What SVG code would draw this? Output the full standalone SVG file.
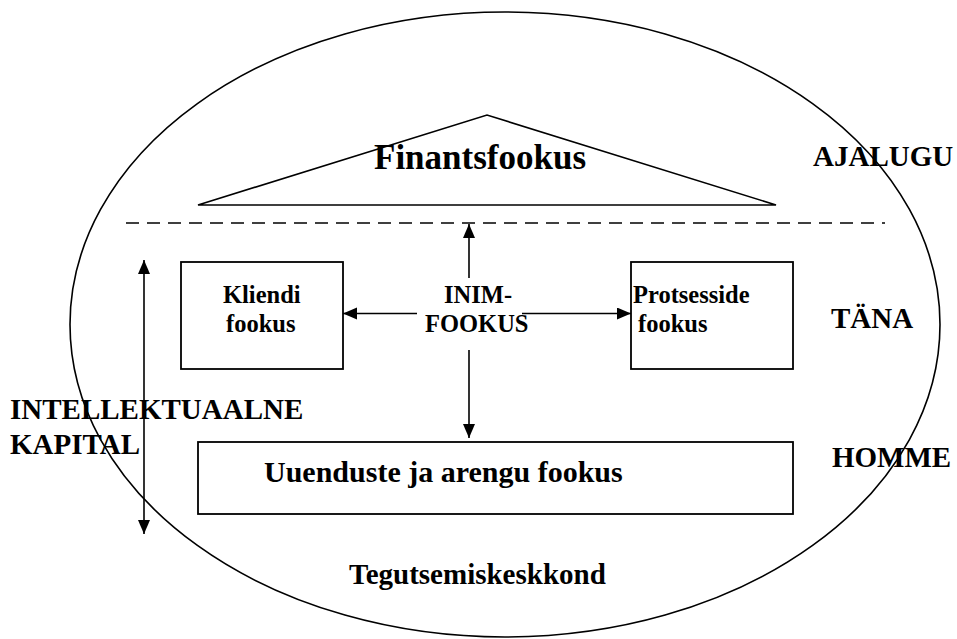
<svg xmlns="http://www.w3.org/2000/svg" width="957" height="639" viewBox="0 0 957 639">
  <style>
    .shape { fill: none; stroke: #000; stroke-width: 1.6; }
    .box { fill: #fff; stroke: #000; stroke-width: 1.8; }
    .conn { fill: none; stroke: #000; stroke-width: 1.6; }
    .t { font-family: 'Liberation Serif', 'DejaVu Serif', serif; font-weight: 700; fill: #000; }
    .lbl { font-size: 29px; }
    .small { font-size: 24.5px; }
  </style>
  <defs>
    <marker id="arrow" markerUnits="userSpaceOnUse" markerWidth="15" markerHeight="13" refX="14" refY="6" orient="auto-start-reverse">
      <path d="M0,0 L14,6 L0,12 z" fill="#000"/>
    </marker>
  </defs>

  <rect width="957" height="639" fill="#fff"/>

  <!-- operating environment -->
  <g id="environment">
    <ellipse class="shape" cx="505" cy="324.5" rx="435" ry="312.5"/>
    <text class="t lbl" x="349" y="584" font-family="Liberation Serif, serif">Tegutsemiskeskkond</text>
  </g>

  <!-- financial focus roof -->
  <g id="financial">
    <polygon class="shape" points="198,205 487,115 776,205" stroke-width="2"/>
    <text class="t" x="374" y="169" font-size="35" font-family="Liberation Serif, serif">Finantsfookus</text>
  </g>

  <!-- history / today boundary -->
  <line id="divider" x1="126" y1="223" x2="885" y2="223" stroke="#000" stroke-width="1.6" stroke-dasharray="13 8"/>

  <!-- time labels -->
  <g id="labels" font-family="Liberation Serif, serif">
    <text class="t lbl" x="813" y="166">AJALUGU</text>
    <text class="t lbl" x="831" y="328">TÄNA</text>
    <text class="t lbl" x="832" y="467">HOMME</text>
    <text class="t lbl" x="10" y="419">INTELLEKTUAALNE</text>
    <text class="t lbl" x="10" y="454">KAPITAL</text>
  </g>

  <g id="client" font-family="Liberation Serif, serif">
    <rect class="box" x="181" y="262" width="162" height="107"/>
    <text class="t small" x="223" y="303">Kliendi</text>
    <text class="t small" x="226" y="332">fookus</text>
  </g>

  <g id="processes" font-family="Liberation Serif, serif">
    <rect class="box" x="631" y="262" width="162" height="107"/>
    <text class="t small" x="633" y="303">Protsesside</text>
    <text class="t small" x="638" y="332">fookus</text>
  </g>

  <g id="innovation" font-family="Liberation Serif, serif">
    <rect class="box" x="198" y="442" width="595" height="72"/>
    <text class="t" x="264" y="482" font-size="30">Uuenduste ja arengu fookus</text>
  </g>

  <g id="human" font-family="Liberation Serif, serif">
    <text class="t small" x="444" y="303">INIM-</text>
    <text class="t small" x="425" y="332">FOOKUS</text>
  </g>

  <!-- connectors -->
  <g id="connectors">
    <line class="conn" x1="469" y1="278" x2="469" y2="224" marker-end="url(#arrow)"/>
    <line class="conn" x1="469" y1="350" x2="469" y2="438" marker-end="url(#arrow)"/>
    <line class="conn" x1="417" y1="313.5" x2="343" y2="313.5" marker-end="url(#arrow)"/>
    <line class="conn" x1="522" y1="313.5" x2="631" y2="313.5" marker-end="url(#arrow)"/>
    <line class="conn" x1="144" y1="260" x2="144" y2="534" marker-start="url(#arrow)" marker-end="url(#arrow)"/>
  </g>
</svg>
